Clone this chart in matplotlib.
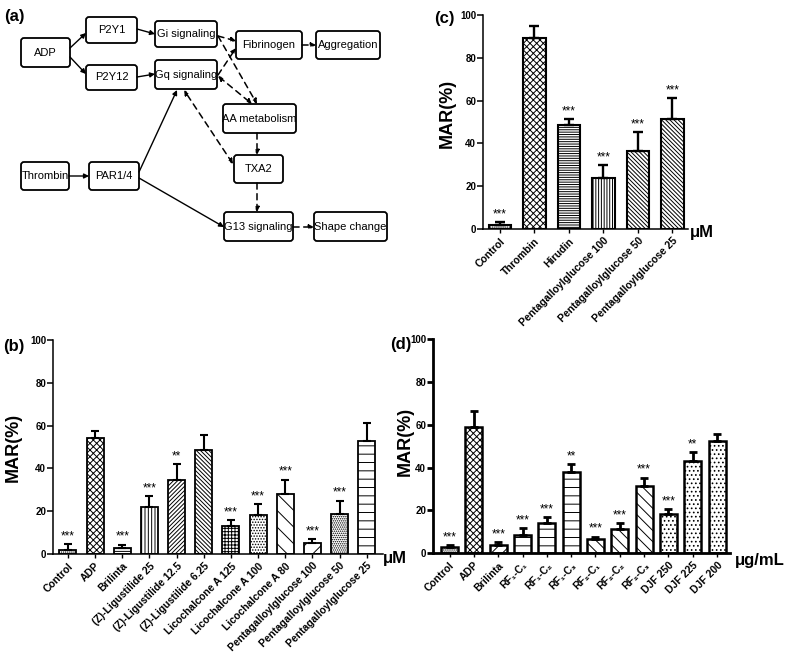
import numpy as np
import matplotlib
matplotlib.use("Agg")
import matplotlib.pyplot as plt
from matplotlib.patches import FancyBboxPatch

plt.rcParams['font.family'] = ['Liberation Sans', 'DejaVu Sans']
plt.rcParams['hatch.linewidth'] = 0.7

W, H = 787, 659

# ---------------- data ----------------
# (b)
b_labels = ["Control", "ADP", "Brilinta", "(Z)-Ligustilide 25", "(Z)-Ligustilide 12.5",
            "(Z)-Ligustilide 6.25", "Licochalcone A 125", "Licochalcone A 100",
            "Licochalcone A 80", "Pentagalloylglucose 100", "Pentagalloylglucose 50",
            "Pentagalloylglucose 25"]
b_vals = [2.0, 54.2, 2.8, 21.8, 34.8, 48.6, 12.9, 18.2, 28.2, 5.1, 18.5, 53.0]
b_errs = [2.7, 3.3, 1.6, 5.2, 7.1, 7.0, 2.8, 5.3, 6.6, 1.8, 6.5, 8.4]
b_stars = ["***", "", "***", "***", "**", "", "***", "***", "***", "***", "***", ""]
b_hatch = ["........", "xxxxx", "------", "|||||", "////////", "\\\\\\\\\\\\\\\\", "+++++",
           "......", "\\\\", "//", "........", "--"]

# (c)
c_labels = ["Control", "Thrombin", "Hirudin", "Pentagalloylglucose 100",
            "Pentagalloylglucose 50", "Pentagalloylglucose 25"]
c_vals = [2.0, 89.4, 48.5, 23.6, 36.3, 51.2]
c_errs = [1.4, 5.4, 2.7, 6.2, 9.1, 10.0]
c_stars = ["***", "", "***", "***", "***", "***"]
c_hatch = ["........", "xxxxx", "-------", "||||||", "\\\\\\\\\\\\\\\\", "\\\\\\\\\\\\\\\\"]

# (d)
d_labels = ["Control", "ADP", "Brilinta", "RF\u2081-C\u2081", "RF\u2081-C\u2082", "RF\u2081-C\u2083",
            "RF\u2082-C\u2081", "RF\u2082-C\u2082", "RF\u2082-C\u2083", "DJF 250", "DJF 225", "DJF 200"]
d_vals = [2.8, 59.2, 3.9, 8.4, 14.0, 38.0, 6.5, 11.2, 31.6, 18.2, 43.3, 52.6]
d_errs = [0.9, 7.3, 1.4, 3.4, 3.1, 3.7, 1.3, 2.8, 3.8, 2.5, 3.9, 3.2]
d_stars = ["***", "", "***", "***", "***", "**", "***", "***", "***", "***", "**", ""]
d_hatch = ["........", "xxxxx", "///", "--", "--", "--", "\\\\\\", "\\\\\\", "\\\\\\",
           "....", "....", "...."]

# (a) flow diagram: name, (x0, y0, x1, y1) in pixels
boxes = {
    "ADP": (21, 38, 70, 67),
    "P2Y1": (86, 17, 137, 43),
    "P2Y12": (86, 65, 137, 90),
    "Gi signaling": (155, 21, 217, 47),
    "Gq signaling": (155, 60, 217, 89),
    "Fibrinogen": (236, 31, 302, 59),
    "Aggregation": (316, 31, 380, 59),
    "AA metabolism": (223, 104, 296, 133),
    "TXA2": (234, 155, 283, 183),
    "Thrombin": (21, 162, 69, 190),
    "PAR1/4": (89, 162, 139, 190),
    "G13 signaling": (224, 212, 293, 241),
    "Shape change": (314, 212, 387, 241),
}
# start, end, style ('s' solid, 'd' dashed), double-headed
arrows = [
    ((70, 48), (86, 33), 's', False),
    ((70, 57), (86, 74), 's', False),
    ((137, 29), (155, 34), 's', False),
    ((137, 77), (155, 74), 's', False),
    ((218, 36), (236, 41), 'd', False),
    ((218, 75), (236, 48), 'd', False),
    ((218, 36), (257, 104), 'd', False),
    ((218, 76), (252, 104), 'd', True),
    ((257, 133), (257, 155), 'd', False),
    ((233, 164), (184, 90), 'd', True),
    ((257, 183), (257, 212), 'd', False),
    ((302, 45), (316, 45), 'd', False),
    ((293, 227), (314, 227), 'd', False),
    ((69, 176), (89, 176), 's', False),
    ((139, 172), (177, 90), 's', False),
    ((139, 178), (224, 227), 's', False),
]

fig = plt.figure(figsize=(W / 100, H / 100), dpi=100)

# ---------------- panel (a) ----------------
axa = fig.add_axes([0, 0, 1, 1])
axa.set_xlim(0, W)
axa.set_ylim(H, 0)
axa.axis("off")
for name, (x0, y0, x1, y1) in boxes.items():
    axa.add_patch(FancyBboxPatch((x0 + 3, y0 + 3), x1 - x0 - 6, y1 - y0 - 6,
                                 boxstyle="round,pad=3", fc="white", ec="black", lw=1.3))
    axa.text((x0 + x1) / 2, (y0 + y1) / 2, name, ha="center", va="center", fontsize=8)
for (s, e, st, both) in arrows:
    axa.annotate("", xy=e, xytext=s,
                 arrowprops=dict(arrowstyle="<|-|>" if both else "-|>",
                                 mutation_scale=7, lw=1.0 if st == 's' else 1.1,
                                 linestyle="-" if st == 's' else (0, (4, 3)),
                                 color="black", shrinkA=0, shrinkB=0))


def px(x, y):
    return x / W, 1 - y / H


def bar_panel(rect, labels, vals, errs, stars, hatches, width, spw, blw, cap):
    ax = fig.add_axes(rect)
    x = np.arange(len(vals))
    bars = ax.bar(x, vals, width=width, color="white", edgecolor="black", lw=blw, zorder=2)
    for b, h in zip(bars, hatches):
        b.set_hatch(h)
    ax.errorbar(x, vals, yerr=[np.zeros(len(errs)), errs], fmt="none", ecolor="black",
                elinewidth=blw + 0.2, capsize=cap, capthick=blw + 0.2, zorder=3)
    for xi, v, e, s in zip(x, vals, errs, stars):
        if s:
            ax.text(xi, v + e + 0.8, s, ha="center", va="bottom", fontsize=8.5)
    ax.set_ylim(0, 100)
    ax.set_yticks([0, 20, 40, 60, 80, 100])
    ax.set_xticks(x)
    ax.set_xticklabels(labels, rotation=45, ha="right", rotation_mode="anchor",
                       fontweight="bold", fontsize=7.5)
    for t in ax.get_yticklabels():
        t.set_fontweight("bold")
        t.set_fontsize(7)
    ax.tick_params(axis="y", length=4, width=spw, pad=1)
    ax.tick_params(axis="x", length=3, width=1, pad=2)
    for sp in ["top", "right"]:
        ax.spines[sp].set_visible(False)
    for sp in ["left", "bottom"]:
        ax.spines[sp].set_linewidth(spw)
    return ax


# ---------------- panel (b) ----------------
axb = bar_panel([53 / W, 1 - 554 / H, 330 / W, 214 / H], b_labels, b_vals, b_errs,
                b_stars, b_hatch, 0.63, 1.1, 1.3, 3)
axb.set_xlim(-0.55, 11.6)

# ---------------- panel (c) ----------------
axc = bar_panel([483 / W, 1 - 229 / H, 205 / W, 214 / H], c_labels, c_vals, c_errs,
                c_stars, c_hatch, 0.66, 1.1, 1.5, 3.6)
axc.set_xlim(-0.49, 5.45)

# ---------------- panel (d) ----------------
axd = bar_panel([433 / W, 1 - 553.3 / H, 297 / W, 214 / H], d_labels, d_vals, d_errs,
                d_stars, d_hatch, 0.7, 2.0, 1.8, 3)
axd.set_xlim(-0.68, 11.53)

# labels
fig.text(*px(4, 16), "(a)", fontsize=12, fontweight="bold", va="center")
fig.text(*px(3, 346), "(b)", fontsize=12, fontweight="bold", va="center")
fig.text(*px(434, 19), "(c)", fontsize=12, fontweight="bold", va="center")
fig.text(*px(390, 345), "(d)", fontsize=12, fontweight="bold", va="center")

fig.text(*px(13, 447), "MAR(%)", fontsize=13, fontweight="bold", rotation=90,
         ha="center", va="center")
fig.text(*px(447, 113), "MAR(%)", fontsize=13, fontweight="bold", rotation=90,
         ha="center", va="center")
fig.text(*px(405, 441), "MAR(%)", fontsize=13, fontweight="bold", rotation=90,
         ha="center", va="center")

fig.text(*px(383, 558), "\u03bcM", fontsize=12, fontweight="bold", va="center")
fig.text(*px(690, 232), "\u03bcM", fontsize=12, fontweight="bold", va="center")
fig.text(*px(735, 561), "\u03bcg/mL", fontsize=12, fontweight="bold", va="center")

fig.savefig("out.png", dpi=100)
